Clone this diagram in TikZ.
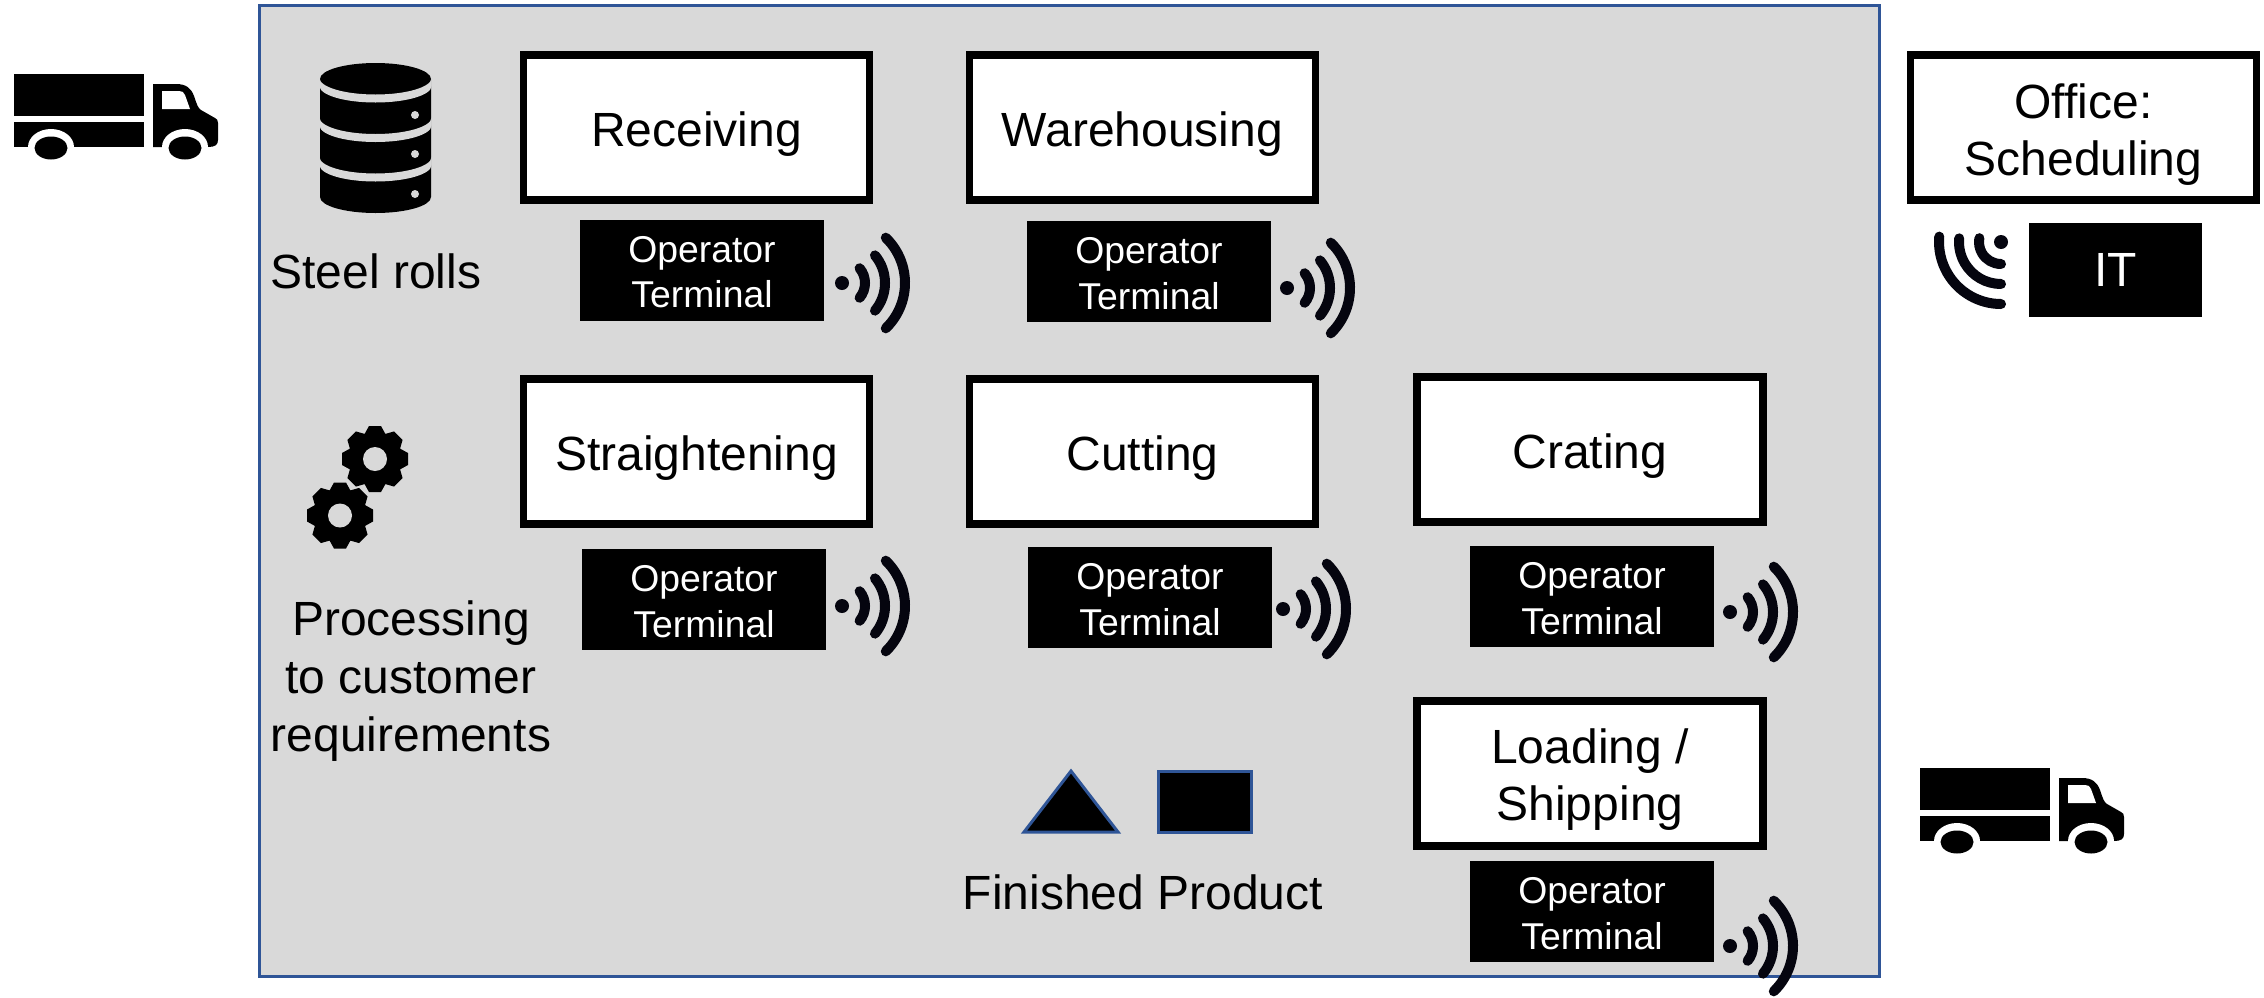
\documentclass[tikz,border=0pt]{standalone}
\usepackage{fontspec}
\setmainfont{Liberation Sans}
\definecolor{panel}{HTML}{D9D9D9}
\definecolor{frameblue}{HTML}{2F5597}
\definecolor{inkdark}{HTML}{05050F}
\newcommand\lowtext[2]{\raisebox{#1}[\height][\depth]{\begin{tabular}{@{}c@{}}#2\end{tabular}}}
\tikzset{
  x=0.5pt,y=-0.5pt,
  stagebox/.style={draw=black,fill=white,line width=3.8pt,minimum width=173pt,minimum height=72.3pt,inner sep=0pt,align=center,font=\fontsize{24}{28.8}\selectfont},
  termbox/.style={fill=black,text=white,minimum width=122pt,minimum height=50.5pt,inner sep=0pt,align=center,font=\fontsize{18.67}{22.7}\selectfont},
  caption/.style={inner sep=0pt,align=center,font=\fontsize{24}{28.8}\selectfont},
  wifi/.pic={
    \fill[inkdark] (0,0) circle[radius=7];
    \draw[inkdark,line width=5pt,line cap=round] (-40:23) arc[start angle=-40,end angle=40,radius=23];
    \draw[inkdark,line width=5pt,line cap=round] (-40:43) arc[start angle=-40,end angle=40,radius=43];
    \draw[inkdark,line width=5pt,line cap=round] (-46:63) arc[start angle=-46,end angle=46,radius=63];
  },
  wifidown/.pic={
    \fill[inkdark] (0,0) circle[radius=7];
    \draw[inkdark,line width=5pt,line cap=round] (90:22) arc[start angle=90,end angle=190,radius=22];
    \draw[inkdark,line width=5pt,line cap=round] (90:42) arc[start angle=90,end angle=185,radius=42];
    \draw[inkdark,line width=5pt,line cap=round] (90:62) arc[start angle=90,end angle=185,radius=62];
  },
  truck/.pic={
    \fill[black] (0,0) rectangle (130,42);
    \fill[black] (0,48) rectangle (130,73);
    \fill[black] (139,10) -- (162,10) .. controls (172,10) and (177,14) .. (180,22)
      .. controls (183,31) and (184,34) .. (187,36) -- (201,44)
      .. controls (203,45) and (204,46) .. (204,49) -- (204,66)
      .. controls (204,71) and (201,73) .. (194,73) -- (139,73) -- cycle;
    \fill[white] (148,17) -- (165,17) .. controls (168,17) and (170,18) .. (171,21) -- (176,35) -- (148,35) -- cycle;
    \fill[white] (37,73) ellipse[x radius=23,y radius=18];
    \fill[white] (171,73) ellipse[x radius=23,y radius=18];
    \fill[black] (37,74) ellipse[x radius=16.5,y radius=11.5];
    \fill[black] (171,74) ellipse[x radius=16.5,y radius=11.5];
  },
  cog/.pic={
    \fill[black] (0,0) circle[radius=27];
    \foreach \a in {0,45,...,315}
      \fill[black,rotate=\a] (33,-6) -- (33,6) -- (24,11) -- (24,-11) -- cycle;
    \fill[panel] (0,0) circle[radius=12];
  },
  rollstack/.pic={
    \fill[black] (-55.5,0) arc[start angle=180,end angle=360,x radius=55.5,y radius=16]
      -- (55.5,118) arc[start angle=0,end angle=180,x radius=55.5,y radius=16] -- cycle;
    \foreach \c in {-1,38.5,78}
      \fill[panel] (-56,\c) arc[start angle=180,end angle=0,x radius=56,y radius=16.5]
        -- (56,\c+8) arc[start angle=0,end angle=180,x radius=56,y radius=16.5] -- cycle;
    \foreach \c in {36,75,115}
      \fill[panel] (39.5,\c) circle[radius=4];
  }
}
\begin{document}
\begin{tikzpicture}
\useasboundingbox (0,0) rectangle (2264,997);
\fill[panel,draw=frameblue,line width=1.5pt] (259,5) rectangle (1879,976);

\pic at (14,74) {truck};
\pic at (1920,768) {truck};
\pic at (375.5,79) {rollstack};
\pic at (375,459) {cog};
\pic at (340,515.5) {cog};

\node[stagebox] (receiving) at (696.5,127.5) {\lowtext{-3.5pt}{Receiving}};
\node[stagebox] (warehousing) at (1142.5,127.5) {\lowtext{-3.5pt}{Warehousing}};
\node[stagebox] (straightening) at (696.5,451.5) {\lowtext{-3.5pt}{Straightening}};
\node[stagebox] (cutting) at (1142.5,451.5) {\lowtext{-3.5pt}{Cutting}};
\node[stagebox] (crating) at (1590,449.5) {\lowtext{-3.5pt}{Crating}};
\node[stagebox] (loading) at (1590,773.5) {\lowtext{-3.5pt}{Loading /\\Shipping}};
\node[stagebox] (office) at (2083.5,127.5) {\lowtext{-4pt}{Office:\\Scheduling}};

\node[termbox] (t1) at (702,270) {\lowtext{-2.9pt}{Operator\\Terminal}};
\node[termbox] (t2) at (1149,271.5) {\lowtext{-2.9pt}{Operator\\Terminal}};
\node[termbox] (t3) at (704,599.5) {\lowtext{-2.9pt}{Operator\\Terminal}};
\node[termbox] (t4) at (1150,597.5) {\lowtext{-2.9pt}{Operator\\Terminal}};
\node[termbox] (t5) at (1592,596.5) {\lowtext{-2.9pt}{Operator\\Terminal}};
\node[termbox] (t6) at (1592,911.5) {\lowtext{-2.9pt}{Operator\\Terminal}};
\node[termbox,minimum width=86.5pt,minimum height=47pt,font=\fontsize{24}{28.8}\selectfont] (it) at (2115.5,270) {\lowtext{-2.5pt}{IT}};

\pic at (842,283) {wifi};
\pic at (1287,288) {wifi};
\pic at (842,606) {wifi};
\pic at (1283,609) {wifi};
\pic at (1730,612) {wifi};
\pic at (1730,946) {wifi};
\pic at (2001,242) {wifidown};

\node[caption] (steel) at (376,271) {Steel rolls};
\node[caption] (processing) at (411,681) {Processing\\to customer\\requirements};
\node[caption] (finished) at (1143,892) {Finished Product};

\fill[black,draw=frameblue,line width=1.5pt] (1071,771) -- (1118,832) -- (1024,832) -- cycle;
\fill[black,draw=frameblue,line width=1.5pt] (1158,771) rectangle (1251,832);
\end{tikzpicture}
\end{document}
